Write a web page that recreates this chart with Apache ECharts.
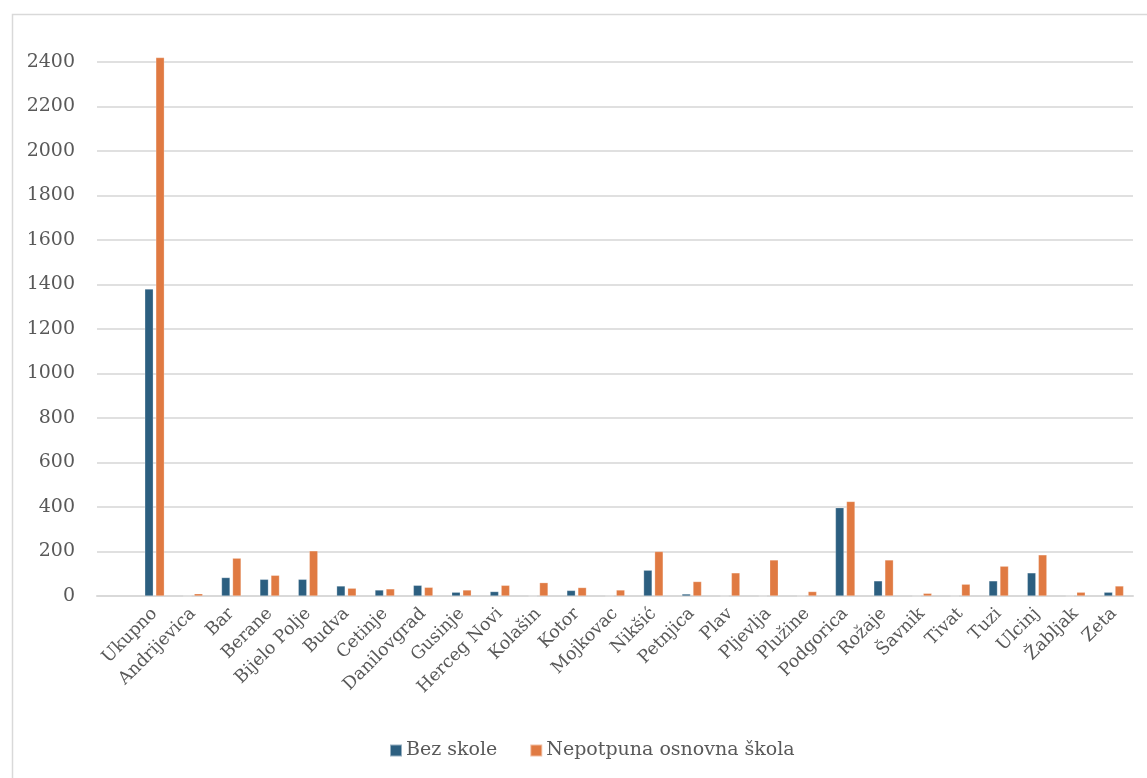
<!DOCTYPE html>
<html>
<head>
<meta charset="utf-8">
<script src="https://cdn.jsdelivr.net/npm/echarts@6/dist/echarts.min.js"></script>
<style>
html,body{margin:0;padding:0;background:#fff;}
#chart{width:1147px;height:778px;}
</style>
</head>
<body>
<div id="chart"></div>
<script>
const categories = ['', 'Ukupno', 'Andrijevica', 'Bar', 'Berane', 'Bijelo Polje', 'Budva', 'Cetinje', 'Danilovgrad', 'Gusinje', 'Herceg Novi', 'Kolašin', 'Kotor', 'Mojkovac', 'Nikšić', 'Petnjica', 'Plav', 'Pljevlja', 'Plužine', 'Podgorica', 'Rožaje', 'Šavnik', 'Tivat', 'Tuzi', 'Ulcinj', 'Žabljak', 'Zeta'];
const bezSkole = [null, 1380, 0, 83, 75, 75, 45, 27, 48, 17, 20, 0, 25, 0, 116, 9, 0, 0, 0, 397, 68, 0, 0, 68, 104, 0, 17];
const nepotpuna = [null, 2420, 10, 170, 93, 203, 35, 32, 39, 27, 48, 60, 38, 27, 200, 65, 104, 162, 20, 425, 162, 12, 53, 134, 185, 17, 45];
const seriesNames = ['Bez skole', 'Nepotpuna osnovna škola'];
const yTicks = {min: 0, max: 2400, interval: 200};

const FONT = "'DejaVu Serif', serif";
const chart = echarts.init(document.getElementById('chart'), null, {renderer: 'canvas'});
chart.setOption({
  backgroundColor: '#fff',
  animation: false,
  graphic: [{
    type: 'rect', left: 10, top: 12,
    shape: {x: 0, y: 0, width: 1145, height: 775},
    style: {fill: 'none', stroke: '#d9d9d9', lineWidth: 1.5},
    silent: true
  }],
  grid: {left: 97, right: 14, top: 62, bottom: 182, containLabel: false},
  legend: {
    left: 384, top: 736,
    itemWidth: 12, itemHeight: 12, itemGap: 32,
    icon: 'rect',
    textStyle: {fontFamily: FONT, fontSize: 19, color: '#595959', padding: [0, 0, 0, -1]},
    data: seriesNames
  },
  xAxis: {
    type: 'category',
    data: categories,
    axisLine: {show: true, lineStyle: {color: '#d9d9d9', width: 2}},
    axisTick: {show: false},
    axisLabel: {interval: 0, rotate: 45, margin: 15, fontFamily: FONT, fontSize: 17.5, color: '#595959'}
  },
  yAxis: {
    type: 'value',
    min: yTicks.min, max: yTicks.max, interval: yTicks.interval,
    axisLine: {show: false},
    axisTick: {show: false},
    splitLine: {lineStyle: {color: '#e0e0e0', width: 2}},
    axisLabel: {margin: 22, fontFamily: FONT, fontSize: 19, color: '#595959', formatter: v => String(v)}
  },
  series: [
    {name: seriesNames[0], type: 'bar', data: bezSkole, barWidth: 8.5, barGap: '30%', clip: false,
     itemStyle: {color: '#2C5F80', borderColor: 'rgba(255,255,255,0.5)', borderWidth: 0.5}},
    {name: seriesNames[1], type: 'bar', data: nepotpuna, barWidth: 8.5, clip: false,
     itemStyle: {color: '#E07A42', borderColor: 'rgba(255,255,255,0.5)', borderWidth: 0.5}}
  ]
});
</script>
</body>
</html>
